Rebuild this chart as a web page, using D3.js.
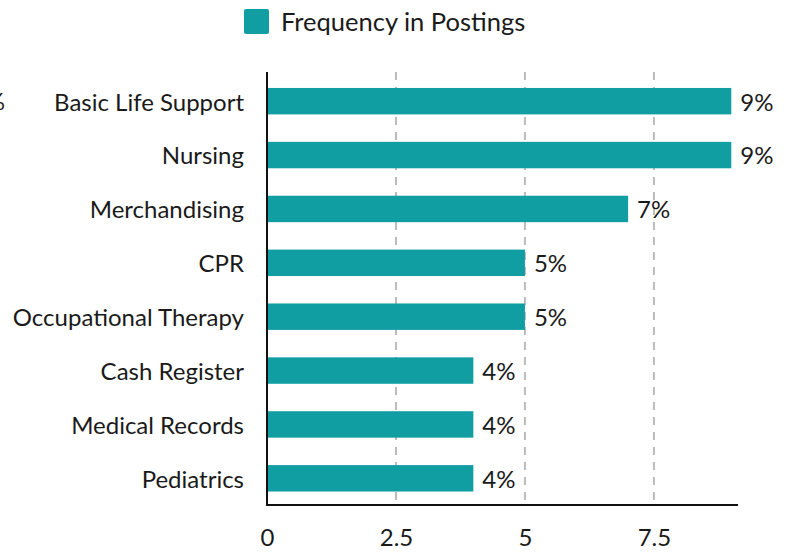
<!DOCTYPE html>
<html>
<head>
<meta charset="utf-8">
<script src="https://cdn.jsdelivr.net/npm/d3@7"></script>
<style>
  body { margin: 0; background: #fff; }
  svg { display: block; font-family: Lato, "Open Sans", sans-serif; }
</style>
</head>
<body>
<svg id="chart" width="791" height="553"></svg>
<script>
const categories = ["Basic Life Support", "Nursing", "Merchandising", "CPR", "Occupational Therapy", "Cash Register", "Medical Records", "Pediatrics"];
const values = [9, 9, 7, 5, 5, 4, 4, 4];
const valueLabels = ["9%", "9%", "7%", "5%", "5%", "4%", "4%", "4%"];
const tickValues = [0, 2.5, 5, 7.5];
const seriesName = "Frequency in Postings";

const barColor = "#109ea3";
const textColor = "#1a1a1a";
const svg = d3.select("#chart");

const x = d3.scaleLinear().domain([0, 9.13]).range([267, 738]);
const y = d3.scaleBand().domain(categories).range([74, 505]).paddingInner(0.5).paddingOuter(0.25);

// gridlines
svg.append("g").selectAll("line").data(tickValues.filter(d => d > 0)).join("line")
  .attr("x1", d => x(d)).attr("x2", d => x(d))
  .attr("y1", 72).attr("y2", 505)
  .attr("stroke", "#bbb").attr("stroke-width", 2).attr("stroke-dasharray", "8,7");

// bars
svg.append("g").selectAll("rect").data(categories).join("rect")
  .attr("x", x(0))
  .attr("y", d => y(d) + 0.5)
  .attr("width", (d, i) => x(values[i]) - x(0))
  .attr("height", y.bandwidth() - 0.5)
  .attr("fill", barColor);

// value labels
svg.append("g").selectAll("text").data(categories).join("text")
  .attr("x", (d, i) => x(values[i]) + 9)
  .attr("y", d => y(d) + y.bandwidth() / 2)
  .attr("dy", "0.4em")
  .attr("font-size", 24)
  .attr("fill", textColor)
  .text((d, i) => valueLabels[i]);

// y axis
const yAxis = svg.append("g").attr("transform", `translate(${x(0)},0)`)
  .call(d3.axisLeft(y).tickSize(0).tickPadding(23));
yAxis.select(".domain").remove();
yAxis.selectAll("text").attr("font-size", 24).attr("dy", "0.4em").attr("fill", textColor).attr("font-family", "Lato, sans-serif");
svg.append("line").attr("x1", x(0)).attr("x2", x(0)).attr("y1", 72).attr("y2", 506)
  .attr("stroke", "#111").attr("stroke-width", 2);

// x axis
const xAxis = svg.append("g").attr("transform", "translate(0,505)")
  .call(d3.axisBottom(x).tickValues(tickValues).tickSize(0).tickPadding(24).tickFormat(d3.format("~g")));
xAxis.select(".domain").remove();
xAxis.selectAll("text").attr("font-size", 24).attr("fill", textColor).attr("font-family", "Lato, sans-serif");
svg.append("line").attr("x1", x(0) - 1).attr("x2", 738).attr("y1", 505).attr("y2", 505)
  .attr("stroke", "#111").attr("stroke-width", 2);

// stray clipped label at left edge (as in the reference)
svg.append("text").attr("x", 5).attr("y", 110).attr("text-anchor", "end")
  .attr("font-size", 24).attr("fill", textColor).text("%");

// legend
svg.append("rect").attr("x", 244).attr("y", 9).attr("width", 25).attr("height", 25).attr("rx", 2).attr("fill", barColor);
svg.append("text").attr("x", 281).attr("y", 22).attr("dy", "0.36em")
  .attr("font-size", 25.5).attr("fill", textColor).text(seriesName);
</script>
</body>
</html>
